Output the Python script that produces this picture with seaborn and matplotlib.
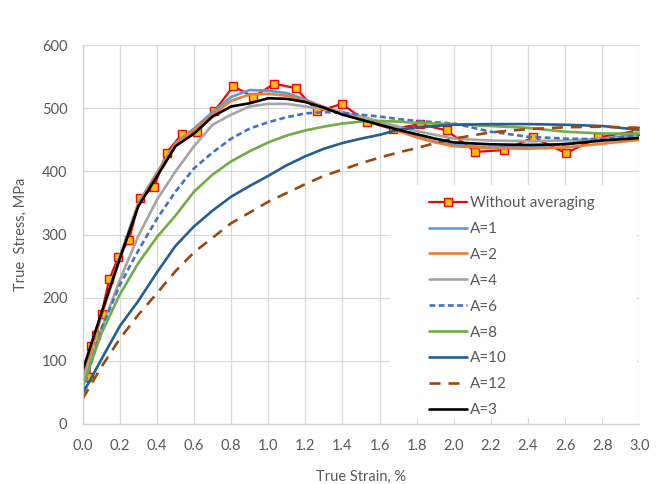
import matplotlib
matplotlib.use("Agg")
import matplotlib.pyplot as plt
import seaborn as sns
from matplotlib.patches import Rectangle
from matplotlib.ticker import MultipleLocator, FormatStrFormatter

sns.set_theme(style="white")
plt.rcParams["font.family"] = ["Lato", "DejaVu Sans"]

# raw measurements (red line with square markers)
raw_strain = [0.0, 0.036, 0.043, 0.072, 0.102, 0.143, 0.192, 0.25, 0.309, 0.384,
              0.453, 0.534, 0.618, 0.708, 0.812, 0.92, 1.033, 1.148, 1.265, 1.396,
              1.531, 1.671, 1.818, 1.962, 2.117, 2.273, 2.429, 2.605, 2.78, 2.98]
raw_stress = [75, 75, 124, 141, 175, 229, 264, 292, 358, 375,
              430, 459, 462, 495, 535, 518, 539, 532, 495, 507,
              479, 467, 475, 465, 431, 434, 454, 429, 454, 464]

# averaged curves, all sampled on the same strain grid
strain = [0.0, 0.1, 0.2, 0.3, 0.4, 0.5, 0.6, 0.7, 0.8, 0.9, 1.0, 1.1, 1.2, 1.3,
          1.4, 1.5, 1.6, 1.7, 1.8, 1.9, 2.0, 2.2, 2.4, 2.6, 2.8, 3.0]
a1 = [80, 172, 265, 350, 398, 445, 468, 494, 518, 529, 528, 524, 514, 502,
      493, 486, 478, 466, 455, 447, 442, 438, 438, 444, 452, 458]
a2 = [78, 170, 262, 348, 396, 443, 466, 490, 512, 522, 523, 520, 512, 502,
      492, 484, 475, 464, 454, 446, 440, 437, 436, 438, 444, 450]
a4 = [68, 150, 228, 298, 355, 400, 440, 474, 490, 503, 507, 507, 503, 499,
      494, 487, 479, 471, 464, 458, 452, 449, 448, 449, 452, 455]
a6 = [52, 150, 220, 275, 325, 368, 405, 430, 452, 468, 478, 486, 492, 494,
      493, 490, 487, 483, 480, 478, 476, 463, 455, 452, 451, 458]
a8 = [59, 143, 205, 255, 296, 330, 368, 395, 416, 432, 446, 457, 465, 471,
      476, 479, 480, 479, 477, 476, 475, 472, 469, 463, 460, 460]
a10 = [48, 102, 155, 195, 240, 282, 313, 338, 360, 377, 393, 410, 424, 436,
       445, 452, 458, 466, 470, 472, 474, 475, 475, 474, 472, 466]
a12 = [40, 90, 135, 173, 207, 242, 272, 295, 318, 335, 352, 366, 380, 393,
       403, 413, 422, 430, 437, 445, 452, 462, 467, 470, 471, 469]
a3 = [85, 175, 262, 345, 392, 440, 460, 487, 503, 508, 516, 515, 510, 501,
      490, 482, 474, 466, 459, 452, 446, 443, 442, 443, 449, 453]

text_color = "#595959"
lw = 1.9

fig = plt.figure(figsize=(6.69, 4.84), dpi=100)
ax = fig.add_axes([0.1236, 0.124, 0.832, 0.7826])

sns.lineplot(x=raw_strain, y=raw_stress, ax=ax, sort=False, estimator=None,
             color="#FF0000", lw=1.6, marker="s", markersize=5.8,
             markerfacecolor="#FFC000", markeredgecolor="#FF0000",
             markeredgewidth=1.0, label="Without averaging")
sns.lineplot(x=strain, y=a1, ax=ax, color="#5B9BD5", lw=lw, label="A=1")
sns.lineplot(x=strain, y=a2, ax=ax, color="#ED7D31", lw=lw, label="A=2")
sns.lineplot(x=strain, y=a4, ax=ax, color="#A5A5A5", lw=lw, label="A=4")
sns.lineplot(x=strain, y=a6, ax=ax, color="#4472C4", lw=lw,
             linestyle=(0, (2.2, 1.3)), label="A=6")
sns.lineplot(x=strain, y=a8, ax=ax, color="#70AD47", lw=lw, label="A=8")
sns.lineplot(x=strain, y=a10, ax=ax, color="#255E91", lw=lw, label="A=10")
sns.lineplot(x=strain, y=a12, ax=ax, color="#9E480E", lw=lw,
             linestyle=(0, (4.2, 3.0)), label="A=12")
sns.lineplot(x=strain, y=a3, ax=ax, color="black", lw=lw, label="A=3")

# white box behind the legend hides the grid there, like in Excel
ax.add_patch(Rectangle((0.552, 0.016), 0.444, 0.615, transform=ax.transAxes,
                       facecolor="white", edgecolor="none", zorder=1))

ax.set_xlim(0, 3.0)
ax.set_ylim(0, 600)
ax.xaxis.set_major_locator(MultipleLocator(0.2))
ax.xaxis.set_major_formatter(FormatStrFormatter("%.1f"))
ax.yaxis.set_major_locator(MultipleLocator(100))
ax.set_axisbelow(True)
ax.grid(True, color="#D9D9D9", lw=0.9)
for side in ["top", "right"]:
    ax.spines[side].set_visible(False)
for side in ["left", "bottom"]:
    ax.spines[side].set_color("#D0D0D0")
    ax.spines[side].set_linewidth(0.9)
ax.tick_params(axis="both", length=0, labelsize=10.5, colors=text_color)
ax.tick_params(axis="x", pad=11)
ax.tick_params(axis="y", pad=11)

ax.set_xlabel("True Strain, %", fontsize=10.5, color=text_color, labelpad=12)
ax.set_ylabel("True  Stress, MPa", fontsize=10.5, color=text_color, labelpad=10)

leg = ax.legend(loc="upper left", bbox_to_anchor=(0.622, 0.602), frameon=False,
                fontsize=11, handlelength=2.5, handletextpad=0.2,
                labelspacing=0.78, borderpad=0, borderaxespad=0)
for t in leg.get_texts():
    t.set_color(text_color)

fig.savefig("out.png", dpi=100)
